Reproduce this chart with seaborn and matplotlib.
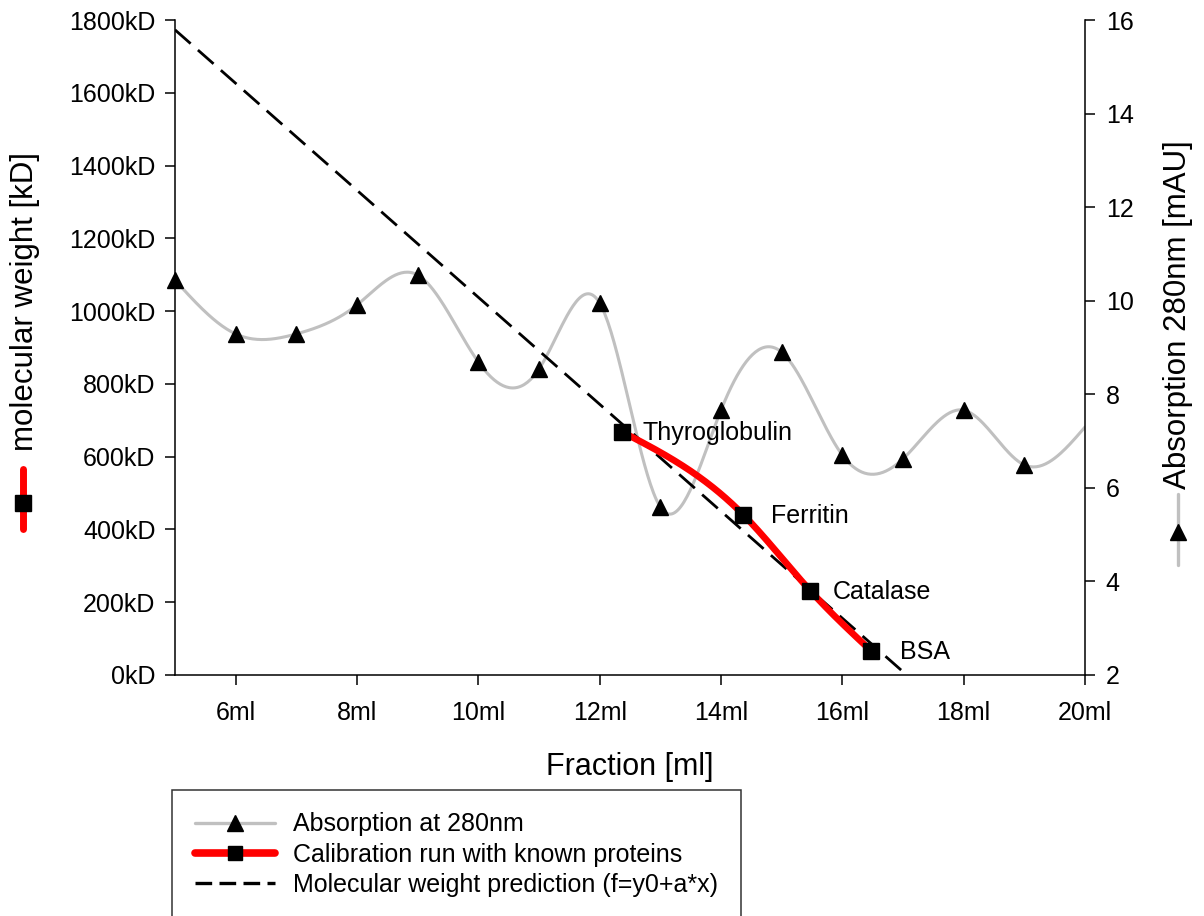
import numpy as np
import matplotlib
matplotlib.use("Agg")
import matplotlib.pyplot as plt
from matplotlib.lines import Line2D
import seaborn as sns

# ---------------- data ----------------
fraction_ml = [5, 6, 7, 8, 9, 10, 11, 12, 13, 14, 15, 16, 17, 18, 19, 20]
absorption_mau = [10.44, 9.29, 9.29, 9.91, 10.55, 8.69, 8.54, 9.95, 5.59, 7.66,
                  8.90, 6.70, 6.62, 7.66, 6.49, 7.30]
# the last trace value (20 ml) has no marker in the original
protein_names = ["Thyroglobulin", "Ferritin", "Catalase", "BSA"]
protein_elution_ml = [12.36, 14.37, 15.47, 16.47]
protein_mw_kd = [669, 440, 232, 67]
# linear prediction f = y0 + a*x
fit_y0 = 2508.0
fit_a = -147.0

x_ticks = [6, 8, 10, 12, 14, 16, 18, 20]
x_ticklabels = ["6ml", "8ml", "10ml", "12ml", "14ml", "16ml", "18ml", "20ml"]
mw_ticks = [0, 200, 400, 600, 800, 1000, 1200, 1400, 1600, 1800]
mw_ticklabels = ["0kD", "200kD", "400kD", "600kD", "800kD", "1000kD",
                 "1200kD", "1400kD", "1600kD", "1800kD"]
abs_ticks = [2, 4, 6, 8, 10, 12, 14, 16]
abs_ticklabels = ["2", "4", "6", "8", "10", "12", "14", "16"]


def natural_spline(x, y, n=600):
    x = np.asarray(x, float)
    y = np.asarray(y, float)
    m = len(x)
    h = np.diff(x)
    A = np.zeros((m, m))
    b = np.zeros(m)
    A[0, 0] = 1
    A[-1, -1] = 1
    for i in range(1, m - 1):
        A[i, i - 1] = h[i - 1]
        A[i, i] = 2 * (h[i - 1] + h[i])
        A[i, i + 1] = h[i]
        b[i] = 3 * ((y[i + 1] - y[i]) / h[i] - (y[i] - y[i - 1]) / h[i - 1])
    c = np.linalg.solve(A, b)
    bc = (y[1:] - y[:-1]) / h - h * (2 * c[:-1] + c[1:]) / 3
    d = (c[1:] - c[:-1]) / (3 * h)
    xs = np.linspace(x[0], x[-1], n)
    idx = np.clip(np.searchsorted(x, xs) - 1, 0, m - 2)
    dx = xs - x[idx]
    ys = y[idx] + bc[idx] * dx + c[idx] * dx ** 2 + d[idx] * dx ** 3
    return xs, ys


# ---------------- style ----------------
sns.set_theme(style="ticks")
plt.rcParams["font.family"] = ["Liberation Sans", "DejaVu Sans"]
plt.rcParams["axes.linewidth"] = 1.1
plt.rcParams["text.color"] = "black"
plt.rcParams["axes.labelcolor"] = "black"
plt.rcParams["xtick.color"] = "black"
plt.rcParams["ytick.color"] = "black"

W, H = 1204, 916
fig = plt.figure(figsize=(W / 100, H / 100), dpi=100)
ax = fig.add_axes([175 / W, 1 - 675 / H, 910 / W, 655 / H])
ax2 = ax.twinx()

GREY = "#c0c0c0"
RED = "#ff0000"

# absorption trace (right axis)
sx, sy = natural_spline(fraction_ml, absorption_mau)
sns.lineplot(x=sx, y=sy, ax=ax2, color=GREY, linewidth=2.2, sort=False,
             estimator=None, legend=False)
ax2.plot(fraction_ml[:-1], absorption_mau[:-1], linestyle="none", marker="^",
         markersize=12, color="black", clip_on=False, zorder=5)

# prediction line (left axis)
px = np.array([fraction_ml[0], fraction_ml[-1]], float)
sns.lineplot(x=px, y=fit_y0 + fit_a * px, ax=ax, color="black", linewidth=2.0,
             sort=False, estimator=None, legend=False)
ax.lines[-1].set_dashes((7.5, 3.5))

# calibration curve
cx, cy = natural_spline(protein_elution_ml, protein_mw_kd, 200)
sns.lineplot(x=cx, y=cy, ax=ax, color=RED, linewidth=4.8, sort=False,
             estimator=None, legend=False)
ax.plot(protein_elution_ml, protein_mw_kd, linestyle="none", marker="s",
        markersize=11, color="black", zorder=6)

label_dx = [15, 20, 16, 21]
for name, xv, yv, dx in zip(protein_names, protein_elution_ml, protein_mw_kd, label_dx):
    ax.annotate(name, (xv, yv), xytext=(dx, -1), textcoords="offset points",
                fontsize=18, va="center", ha="left", color="black")

# put primary axes above twin
ax.set_zorder(ax2.get_zorder() + 1)
ax.patch.set_visible(False)

# axes limits / ticks
ax.set_xlim(5, 20)
ax.set_ylim(0, 1800)
ax2.set_ylim(2, 16)
ax.set_xticks(x_ticks)
ax.set_xticklabels(x_ticklabels)
ax.set_yticks(mw_ticks)
ax.set_yticklabels(mw_ticklabels)
ax2.set_yticks(abs_ticks)
ax2.set_yticklabels(abs_ticklabels)

for a in (ax, ax2):
    a.tick_params(direction="out", length=7, width=1.1, labelsize=18,
                  colors="black")
    a.spines["top"].set_visible(False)
    for s in a.spines.values():
        s.set_color("black")
        s.set_linewidth(1.1)
ax.tick_params(axis="x", pad=12)
ax.tick_params(axis="y", pad=7)
ax2.tick_params(axis="y", pad=8)
ax.spines["right"].set_visible(False)
ax2.spines["left"].set_visible(False)
ax2.spines["bottom"].set_visible(False)
ax.grid(False)
ax2.grid(False)

ax.set_xlabel("Fraction [ml]", fontsize=22, color="black")
ax.xaxis.set_label_coords(0.5, (675 - 752) / 655)
ax.xaxis.label.set_va("top")

# y labels with legend glyphs
fig.text(25 / W, 1 - 451 / H, "molecular weight [kD]", rotation=90,
         ha="center", va="bottom", fontsize=22.5, color="black")
fig.add_artist(Line2D([23 / W, 23 / W], [1 - 469 / H, 1 - 529 / H],
                      transform=fig.transFigure, color=RED, linewidth=5,
                      solid_capstyle="round"))
fig.add_artist(Line2D([23 / W], [1 - 503 / H], transform=fig.transFigure,
                      marker="s", markersize=11, color="black", linestyle="none"))

fig.text(1178 / W, 1 - 489 / H, "Absorption 280nm [mAU]", rotation=90,
         ha="center", va="bottom", fontsize=22.5, color="black")
fig.add_artist(Line2D([1178 / W, 1178 / W], [1 - 494 / H, 1 - 565 / H],
                      transform=fig.transFigure, color=GREY, linewidth=2.4,
                      solid_capstyle="round"))
fig.add_artist(Line2D([1178 / W], [1 - 532 / H], transform=fig.transFigure,
                      marker="^", markersize=12, color="black", linestyle="none"))

# legend
handles = [
    Line2D([], [], color=GREY, linewidth=2.4, marker="^", markersize=12,
           markerfacecolor="black", markeredgecolor="black"),
    Line2D([], [], color=RED, linewidth=5.5, marker="s", markersize=10,
           markerfacecolor="black", markeredgecolor="black",
           solid_capstyle="round"),
    Line2D([], [], color="black", linewidth=2.4, dashes=(5, 2.2)),
]
labels = ["Absorption at 280nm", "Calibration run with known proteins",
          "Molecular weight prediction (f=y0+a*x)"]
leg = fig.legend(handles, labels, loc="upper left",
                 bbox_to_anchor=(172 / W, 1 - 790 / H), fontsize=18,
                 frameon=True, fancybox=False, edgecolor="black",
                 handlelength=3.2, handletextpad=0.75, borderpad=0.9,
                 labelspacing=0.25, borderaxespad=0)
leg.get_frame().set_linewidth(1.1)
for t in leg.get_texts():
    t.set_color("black")

fig.savefig("out.png", dpi=100)
